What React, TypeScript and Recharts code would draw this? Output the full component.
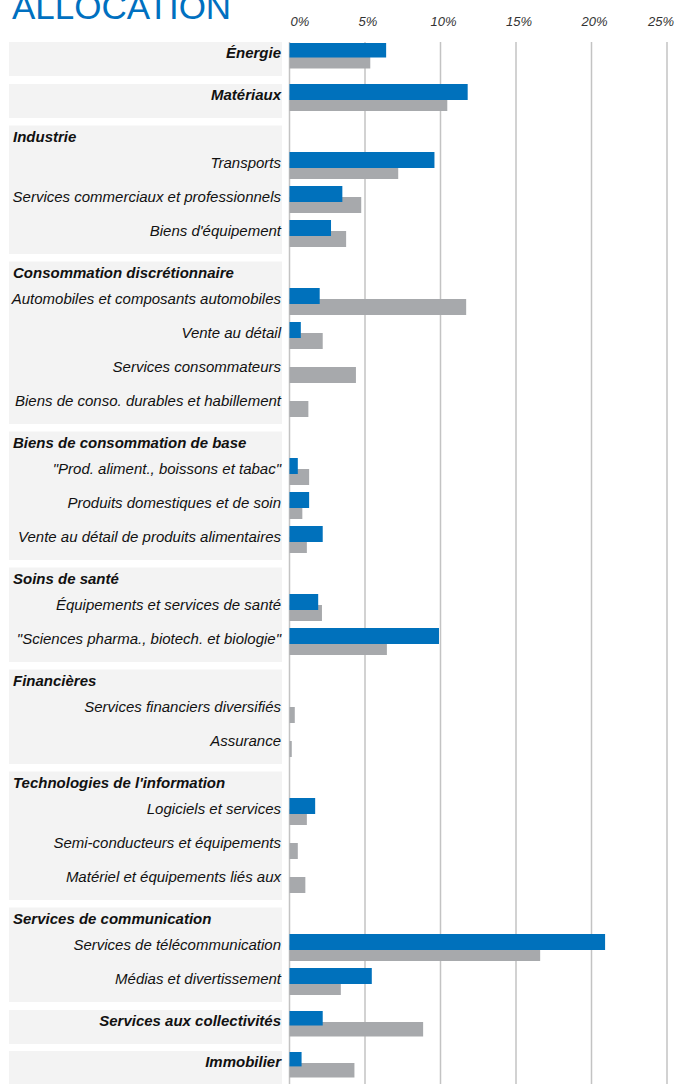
import React from 'react';
import { BarChart, Bar, XAxis, YAxis, CartesianGrid } from 'recharts';

// ---------- data ----------
const title = 'ALLOCATION';

const rowLabels = [
  'Énergie',
  'Matériaux',
  'Industrie',
  'Transports',
  'Services commerciaux et professionnels',
  "Biens d'équipement",
  'Consommation discrétionnaire',
  'Automobiles et composants automobiles',
  'Vente au détail',
  'Services consommateurs',
  'Biens de conso. durables et habillement',
  'Biens de consommation de base',
  '"Prod. aliment., boissons et tabac"',
  'Produits domestiques et de soin',
  'Vente au détail de produits alimentaires',
  'Soins de santé',
  'Équipements et services de santé',
  '"Sciences pharma., biotech. et biologie"',
  'Financières',
  'Services financiers diversifiés',
  'Assurance',
  "Technologies de l'information",
  'Logiciels et services',
  'Semi-conducteurs et équipements',
  'Matériel et équipements liés aux',
  'Services de communication',
  'Services de télécommunication',
  'Médias et divertissement',
  'Services aux collectivités',
  'Immobilier',
];

// 'sector' = single-row sector, 'header' = sector title, 'item' = industry group
const rowKinds = [
  'sector', 'sector',
  'header', 'item', 'item', 'item',
  'header', 'item', 'item', 'item', 'item',
  'header', 'item', 'item', 'item',
  'header', 'item', 'item',
  'header', 'item', 'item',
  'header', 'item', 'item', 'item',
  'header', 'item', 'item',
  'sector', 'sector',
];

// blue series (fund), %
const fundWeights = [
  6.4, 11.8,
  null, 9.6, 3.5, 2.75,
  null, 2.0, 0.75, 0, 0,
  null, 0.55, 1.3, 2.2,
  null, 1.9, 9.9,
  null, 0, 0,
  null, 1.7, 0, 0,
  null, 20.9, 5.45,
  2.2, 0.8,
];

// grey series (benchmark), %
const indexWeights = [
  5.35, 10.45,
  null, 7.2, 4.75, 3.75,
  null, 11.7, 2.2, 4.4, 1.25,
  null, 1.3, 0.85, 1.15,
  null, 2.15, 6.45,
  null, 0.35, 0.15,
  null, 1.15, 0.55, 1.05,
  null, 16.6, 3.4,
  8.85, 4.3,
];

const xTicks = [0, 5, 10, 15, 20, 25];

const rows = rowLabels.map((label, i) => ({
  label,
  kind: rowKinds[i],
  fund: fundWeights[i],
  index: indexWeights[i],
}));

// ---------- style / layout ----------
const W = 675;
const H = 1084;
const FONT = '"Liberation Sans", Arial, Helvetica, sans-serif';
const BLUE = '#0071bc';
const GREY = '#a7a9ac';
const PANEL = '#f3f3f3';
const GRID = '#c3c3c3';
const TEXT = '#111111';
const BAR = 16;
const SHIFT = 11; // grey bar offset below blue bar

// chart pieces: plot top/bottom, top of first blue bar, band height
const pieces = [
  { start: 0, end: 1, top: 42, bottom: 75, firstBar: 42, band: 16, axis: true },
  { start: 1, end: 28, top: 75, bottom: 1004, firstBar: 84, band: 34, axis: false },
  { start: 28, end: 29, top: 1004, bottom: 1046, firstBar: 1010, band: 16, axis: false },
  { start: 29, end: 30, top: 1046, bottom: 1084, firstBar: 1051, band: 16, axis: false },
];

const RowTick = (props: any) => {
  const { y, payload } = props;
  const row = rows.find((r) => r.label === payload.value);
  const kind = row ? row.kind : 'item';
  if (kind === 'header') {
    return (
      <g>
        <rect x={9} y={y - 0.5} width={273} height={26.5} fill={PANEL} />
        <text
          x={13}
          y={y + 16}
          fontFamily={FONT}
          fontSize={15}
          fontStyle="italic"
          fontWeight="bold"
          fill={TEXT}
        >
          {payload.value}
        </text>
      </g>
    );
  }
  return (
    <g>
      <rect x={9} y={y - 8} width={273} height={34} fill={PANEL} />
      <text
        x={281}
        y={y + 8}
        textAnchor="end"
        fontFamily={FONT}
        fontSize={15}
        fontStyle="italic"
        fontWeight={kind === 'sector' ? 'bold' : 'normal'}
        fill={TEXT}
      >
        {payload.value}
      </text>
    </g>
  );
};

const PctTick = (props: any) => {
  const { x, payload, index } = props;
  const first = index === 0;
  const last = index === xTicks.length - 1;
  return (
    <text
      x={first ? x + 1 : last ? x + 7 : x + 3}
      y={26}
      textAnchor={first ? 'start' : last ? 'end' : 'middle'}
      fontFamily={FONT}
      fontSize={13}
      fontStyle="italic"
      fill="#333333"
    >
      {`${payload.value}%`}
    </text>
  );
};

const Piece = ({ piece }: { piece: (typeof pieces)[number] }) => {
  const data = rows.slice(piece.start, piece.end);
  const n = data.length;
  const rangeStart = piece.firstBar - (piece.band - BAR) / 2;
  const rangeEnd = rangeStart + piece.band * n;
  const blueRange = { top: rangeStart - piece.top, bottom: piece.bottom - rangeEnd };
  return (
    <div style={{ position: 'absolute', left: 0, top: 0 }}>
      <BarChart
        width={W}
        height={H}
        data={data}
        layout="vertical"
        margin={{ top: piece.axis ? 0 : piece.top, bottom: H - piece.bottom, left: 0, right: 8 }}
      >
        <CartesianGrid horizontal={false} stroke={GRID} strokeWidth={1.5} />
        <XAxis
          type="number"
          domain={[0, 25]}
          ticks={xTicks}
          orientation="top"
          hide={!piece.axis}
          height={piece.axis ? piece.top : undefined}
          axisLine={false}
          tickLine={false}
          tick={<PctTick />}
          interval={0}
        />
        <YAxis
          type="category"
          dataKey="label"
          width={289.5}
          interval={0}
          axisLine={false}
          tickLine={false}
          tick={<RowTick />}
          padding={blueRange}
        />
        <YAxis
          yAxisId="g"
          type="category"
          dataKey="label"
          hide
          padding={{ top: blueRange.top + SHIFT, bottom: blueRange.bottom - SHIFT }}
        />
        <Bar dataKey="index" yAxisId="g" fill={GREY} barSize={BAR} isAnimationActive={false} />
        <Bar dataKey="fund" fill={BLUE} barSize={BAR} isAnimationActive={false} />
      </BarChart>
    </div>
  );
};

export default function App() {
  return (
    <div
      style={{
        position: 'absolute',
        left: 0,
        top: 0,
        width: W,
        height: H,
        background: '#ffffff',
        overflow: 'hidden',
      }}
    >
      {pieces.map((p, i) => (
        <Piece key={i} piece={p} />
      ))}
      <svg width={W} height={40} style={{ position: 'absolute', left: 0, top: 0 }}>
        <text x={12} y={19} fontFamily={FONT} fontSize={35} fill="#0070c0">
          {title}
        </text>
      </svg>
    </div>
  );
}
